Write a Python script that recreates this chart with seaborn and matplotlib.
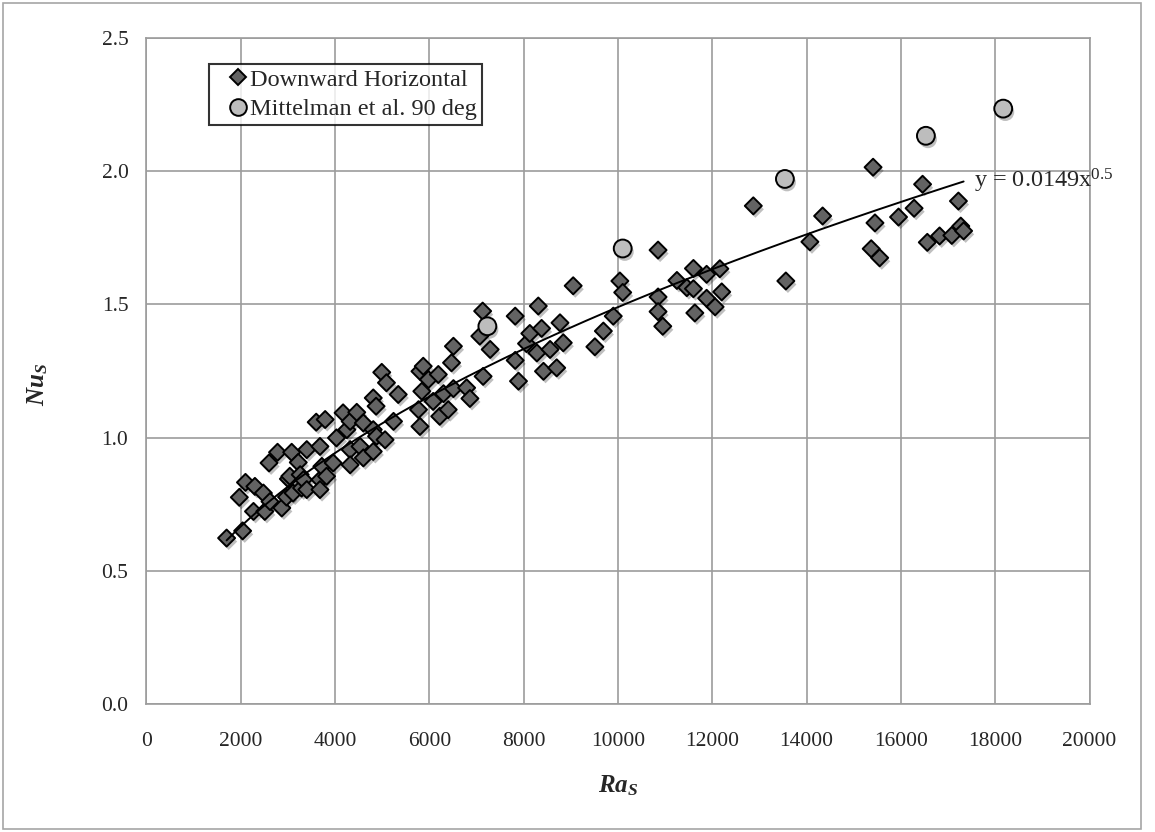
import matplotlib
matplotlib.use("Agg")
import matplotlib.pyplot as plt
import matplotlib.patheffects as pe
from matplotlib.patches import Rectangle
from matplotlib.lines import Line2D
import seaborn as sns
import numpy as np
import pandas as pd

# Downward horizontal data (Ra_S, Nu_S)
ra_down = [1700, 1970, 2040, 2100, 2270, 2300, 2480, 2510, 2600, 2620,
           2780, 2870, 2970, 3010, 3040, 3080, 3110, 3220, 3260, 3290,
           3330, 3400, 3400, 3600, 3680, 3680, 3680, 3720, 3790, 3820,
           3960, 4030, 4170, 4250, 4320, 4320, 4320, 4460, 4530, 4600,
           4600, 4810, 4810, 4810, 4870, 4880, 4990, 5060, 5090, 5240,
           5340, 5770, 5800, 5800, 5840, 5870, 5980, 6080, 6190, 6220,
           6300, 6400, 6470, 6510, 6510, 6790, 6860, 7070, 7130, 7140,
           7290, 7820, 7820, 7890, 8060, 8130, 8280, 8310, 8380, 8420,
           8560, 8700, 8770, 8840, 9050, 9510, 9690, 9900, 10040, 10100,
           10850, 10850, 10850, 10950, 11250, 11460, 11600, 11600, 11630, 11880,
           11880, 12060, 12160, 12200, 12870, 13560, 14070, 14340, 15370, 15410,
           15450, 15550, 15950, 16280, 16460, 16560, 16820, 17080, 17220, 17270,
           17330]
nu_down = [0.623, 0.776, 0.650, 0.832, 0.723, 0.817, 0.792, 0.723, 0.905, 0.760,
           0.945, 0.736, 0.777, 0.845, 0.855, 0.945, 0.792, 0.907, 0.861, 0.811,
           0.842, 0.955, 0.805, 1.058, 0.967, 0.842, 0.805, 0.892, 1.068, 0.855,
           0.905, 0.999, 1.093, 1.030, 1.061, 0.955, 0.898, 1.095, 0.967, 1.055,
           0.924, 1.149, 1.030, 0.948, 1.118, 1.005, 1.245, 0.992, 1.206, 1.061,
           1.162, 1.105, 1.249, 1.042, 1.174, 1.268, 1.218, 1.136, 1.237, 1.080,
           1.165, 1.105, 1.281, 1.343, 1.184, 1.187, 1.147, 1.381, 1.475, 1.230,
           1.331, 1.456, 1.290, 1.212, 1.353, 1.391, 1.318, 1.494, 1.410, 1.249,
           1.331, 1.262, 1.431, 1.356, 1.570, 1.341, 1.400, 1.456, 1.588, 1.545,
           1.704, 1.528, 1.473, 1.418, 1.590, 1.563, 1.559, 1.635, 1.468, 1.613,
           1.523, 1.491, 1.634, 1.547, 1.870, 1.588, 1.735, 1.832, 1.709, 2.015,
           1.806, 1.675, 1.828, 1.861, 1.951, 1.733, 1.757, 1.759, 1.888, 1.794,
           1.776]

# Mittelman et al. 90 deg
ra_mitt = [7230, 10100, 13540, 16530, 18170]
nu_mitt = [1.418, 1.710, 1.971, 2.133, 2.235]

# power-law trendline shown on the chart
fit_coef = 0.0149
fit_exp = 0.5

x_ticks = list(range(0, 20001, 2000))
y_ticks = [0.0, 0.5, 1.0, 1.5, 2.0, 2.5]

sns.set_style("white")
plt.rcParams['font.family'] = ['Liberation Serif', 'DejaVu Serif']
plt.rcParams['mathtext.fontset'] = 'custom'
plt.rcParams['mathtext.rm'] = 'Liberation Serif'
plt.rcParams['mathtext.it'] = 'Liberation Serif:italic:bold'
plt.rcParams['mathtext.bf'] = 'Liberation Serif:bold'

grid_col = '#9c9c9c'

fig = plt.figure(figsize=(11.55, 8.32), dpi=100)
ax = fig.add_axes([0.1268, 0.1538, 0.8165, 0.8005])

df_down = pd.DataFrame({'Ra': ra_down, 'Nu': nu_down})
df_mitt = pd.DataFrame({'Ra': ra_mitt, 'Nu': nu_mitt})

shadow = [pe.SimplePatchShadow(offset=(1.5, -2.5), shadow_rgbFace='black', alpha=0.25), pe.Normal()]

sns.scatterplot(data=df_down, x='Ra', y='Nu', marker='D', s=75, color='#636363',
                edgecolor='black', linewidth=1.4, ax=ax, zorder=3, legend=False)
sns.scatterplot(data=df_mitt, x='Ra', y='Nu', marker='o', s=165, color='#bdbdbd',
                edgecolor='black', linewidth=1.4, ax=ax, zorder=3, legend=False)
for coll in ax.collections:
    coll.set_path_effects(shadow)

# trendline
xf = np.linspace(min(ra_down), max(ra_down), 200)
ax.plot(xf, fit_coef * xf ** fit_exp, color='black', lw=1.4, zorder=4)
ax.text(17560, 1.963, r"y = 0.0149x$^{0.5}$", fontsize=17.5, ha='left', va='center',
        zorder=5, clip_on=False)

ax.set_xlim(0, 20000)
ax.set_ylim(0, 2.5)
ax.set_xticks(x_ticks)
ax.set_yticks(y_ticks)
ax.set_xticklabels([str(t) for t in x_ticks])
ax.set_yticklabels([f"{t:.1f}" for t in y_ticks])
ax.grid(True, color=grid_col, lw=1.2)
ax.set_axisbelow(True)
for sp in ax.spines.values():
    sp.set_color(grid_col)
    sp.set_linewidth(1.2)
ax.tick_params(axis='both', which='major', direction='out', length=5, width=1.2,
               color=grid_col, labelsize=15.5, pad=8)
ax.tick_params(axis='x', pad=15)

ax.set_xlabel(r"$Ra_S$", fontsize=18)
ax.set_ylabel(r"$Nu_S$", fontsize=18)
ax.xaxis.set_label_coords(0.5, -0.104)
ax.yaxis.set_label_coords(-0.102, 0.48)

handles = [
    Line2D([], [], marker='D', ls='none', markersize=8.5, markerfacecolor='#636363',
           markeredgecolor='black', markeredgewidth=1.4, label='Downward Horizontal'),
    Line2D([], [], marker='o', ls='none', markersize=12, markerfacecolor='#bdbdbd',
           markeredgecolor='black', markeredgewidth=1.4, label='Mittelman et al. 90 deg'),
]
# marker sits right next to the text, as in Excel legends
leg = ax.legend(handles=handles, loc='upper left', bbox_to_anchor=(0.066, 0.961),
                fontsize=17.5, frameon=True, fancybox=False, handlelength=2.0,
                handletextpad=-0.5, borderpad=0.2, labelspacing=0.3,
                borderaxespad=0)
leg.get_frame().set_edgecolor('black')
leg.get_frame().set_linewidth(1.5)
leg.set_zorder(6)

# outer chart border
fig.patches.append(Rectangle((3 / 1155, 3 / 832), 1138 / 1155, 826 / 832,
                             transform=fig.transFigure, fill=False,
                             edgecolor='#a6a6a6', lw=1.2))

fig.savefig("out.png", dpi=100)
